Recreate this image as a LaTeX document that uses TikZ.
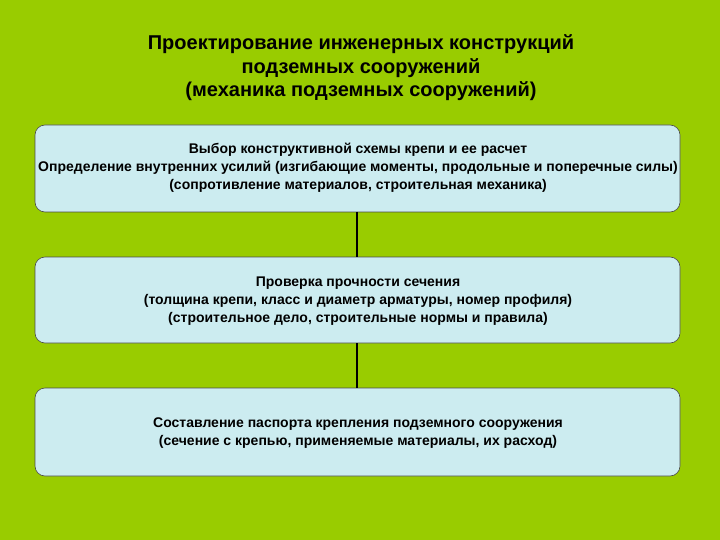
\documentclass[tikz,border=0pt]{standalone}
\usepackage{fontspec}
\setmainfont{Liberation Sans}
\begin{document}
\begin{tikzpicture}[x=1pt,y=-1pt,
  box/.style={draw=black!70,fill=boxc,rounded corners=10pt,line width=0.6pt},
  btxt/.style={font=\bfseries\fontsize{14}{18}\selectfont,align=center},
  conn/.style={line width=2.5pt}]
\definecolor{bgc}{RGB}{153,204,0}
\definecolor{boxc}{RGB}{204,236,240}
\fill[bgc] (0,0) rectangle (720,540);
\useasboundingbox (0,0) rectangle (720,540);
\node[font=\bfseries\fontsize{20}{23.5}\selectfont,align=center] (title) at (361,68)
 {Проектирование инженерных конструкций\\подземных сооружений\\(механика подземных сооружений)};
\draw[box] (35,125) rectangle (680,212); \node (b1) at (357.5,168.5) {};
\draw[box] (35,257) rectangle (680,343); \node (b2) at (357.5,300) {};
\draw[box] (35,388) rectangle (680,476); \node (b3) at (357.5,432) {};
\coordinate (b1s) at (357,212); \coordinate (b2n) at (357,257);
\coordinate (b2s) at (357,343); \coordinate (b3n) at (357,388);
\draw[conn] (b1s) -- (b2n);
\draw[conn] (b2s) -- (b3n);
\node[btxt] (t1) at (358,168) {Выбор конструктивной схемы крепи и ее расчет\\Определение внутренних усилий (изгибающие моменты, продольные и поперечные силы)\\(сопротивление материалов, строительная механика)};
\node[btxt] (t2) at (358,301) {Проверка прочности сечения\\(толщина крепи, класс и диаметр арматуры, номер профиля)\\(строительное дело, строительные нормы и правила)};
\node[btxt] (t3) at (358,433) {Составление паспорта крепления подземного сооружения\\(сечение с крепью, применяемые материалы, их расход)};
\end{tikzpicture}
\end{document}
